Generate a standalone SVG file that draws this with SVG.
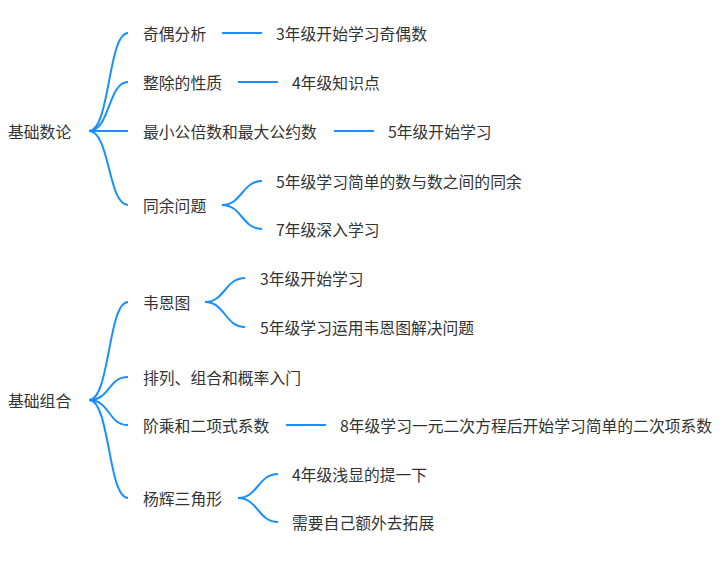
<svg xmlns="http://www.w3.org/2000/svg" width="724" height="564" viewBox="0 0 724 564">
<style>
text{font-family:"Noto Sans CJK SC","Liberation Sans",sans-serif;font-size:15.8px;fill:#333;dominant-baseline:central}
path{fill:none;stroke:#1890ff;stroke-width:2}
</style>
<rect width="724" height="564" fill="#fff"/>
<g id="connectors">
<path d="M89 131C110 131 108 33 128 33"/>
<path d="M89 131C110 131 108 82 128 82"/>
<path d="M89 131H128"/>
<path d="M89 131C110 131 108 205 128 205"/>
<path d="M222 33H262"/><path d="M238 82H278"/><path d="M334 131H374"/>
<path d="M222 205C242 205 242 181 262 181"/>
<path d="M222 205C242 205 242 229 262 229"/>
<path d="M89 400C110 400 108 302 128 302"/>
<path d="M89 400C110 400 108 377 128 377"/>
<path d="M89 400C110 400 108 425 128 425"/>
<path d="M89 400C110 400 108 498 128 498"/>
<path d="M205 302C225 302 225 278 245 278"/>
<path d="M205 302C225 302 225 327 245 327"/>
<path d="M286 425H326"/>
<path d="M238 498C258 498 258 474 278 474"/>
<path d="M238 498C258 498 258 522 278 522"/>
</g>
<g id="n1"><text x="8" y="131">基础数论</text></g>
<g id="n2"><text x="143" y="33">奇偶分析</text></g>
<g id="n3"><text x="276" y="33">3年级开始学习奇偶数</text></g>
<g id="n4"><text x="143" y="82">整除的性质</text></g>
<g id="n5"><text x="292" y="82">4年级知识点</text></g>
<g id="n6"><text x="143" y="131">最小公倍数和最大公约数</text></g>
<g id="n7"><text x="388" y="131">5年级开始学习</text></g>
<g id="n8"><text x="143" y="205">同余问题</text></g>
<g id="n9"><text x="276" y="181">5年级学习简单的数与数之间的同余</text></g>
<g id="n10"><text x="276" y="229">7年级深入学习</text></g>
<g id="n11"><text x="8" y="400">基础组合</text></g>
<g id="n12"><text x="143" y="302">韦恩图</text></g>
<g id="n13"><text x="260" y="278">3年级开始学习</text></g>
<g id="n14"><text x="260" y="327">5年级学习运用韦恩图解决问题</text></g>
<g id="n15"><text x="143" y="377">排列、组合和概率入门</text></g>
<g id="n16"><text x="143" y="425">阶乘和二项式系数</text></g>
<g id="n17"><text x="340" y="425">8年级学习一元二次方程后开始学习简单的二次项系数</text></g>
<g id="n18"><text x="143" y="498">杨辉三角形</text></g>
<g id="n19"><text x="292" y="474">4年级浅显的提一下</text></g>
<g id="n20"><text x="292" y="522">需要自己额外去拓展</text></g>
</svg>
